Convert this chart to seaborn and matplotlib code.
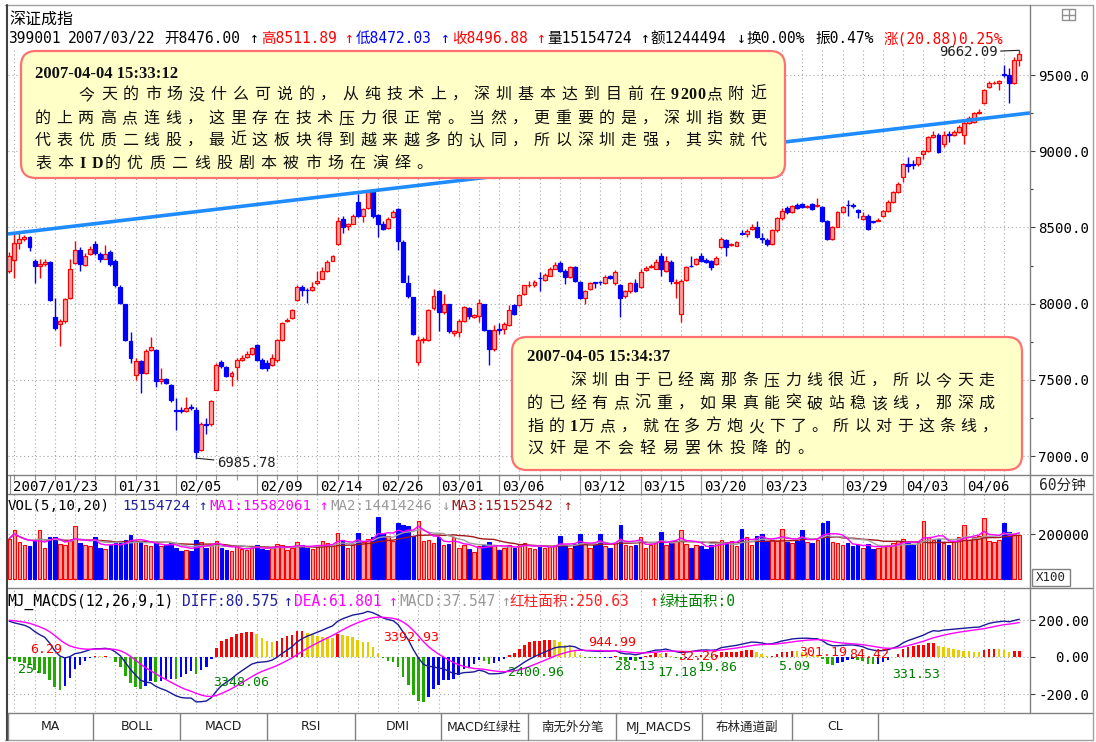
import numpy as np
import pandas as pd
import matplotlib
matplotlib.use("Agg")
import matplotlib.pyplot as plt
import matplotlib.transforms as mtransforms
import seaborn as sns
from matplotlib.patches import FancyBboxPatch, Rectangle
from matplotlib.lines import Line2D

# 深证成指 399001, 60 minute bars, 2007/01/23 .. 2007/04
opens = [8217, 8288, 8399, 8425, 8438, 8282, 8250, 8262, 8275, 7910,
         7865, 7885, 8034, 8269, 8353, 8256, 8327, 8392, 8327, 8295,
         8340, 8282, 8112, 7995, 7754, 7532, 7624, 7545, 7695, 7695,
         7490, 7505, 7467, 7300, 7300, 7298, 7320, 7304, 7037, 7210,
         7207, 7435, 7617, 7585, 7526, 7585, 7630, 7650, 7669, 7728,
         7630, 7610, 7598, 7630, 7760, 7885, 7904, 8021, 8112, 8090,
         8086, 8132, 8164, 8217, 8282, 8392, 8555, 8510, 8523, 8666,
         8575, 8627, 8744, 8581, 8523, 8497, 8568, 8620, 8405, 8138,
         8041, 7617, 7760, 7760, 7969, 8080, 7943, 7995, 7810, 7813,
         7884, 7969, 7910, 7917, 7995, 7826, 7702, 7832, 7832, 7858,
         7989, 7989, 8060, 8119, 8119, 8170, 8158, 8184, 8230, 8269,
         8217, 8177, 8243, 8145, 8034, 8093, 8140, 8145, 8138, 8180,
         8132, 8125, 8047, 8080, 8138, 8112, 8220, 8240, 8230, 8314,
         8217, 8275, 8135, 7930, 8158, 8250, 8262, 8314, 8285, 8278,
         8262, 8373, 8418, 8385, 8379, 8460, 8457, 8490, 8503, 8430,
         8420, 8392, 8480, 8560, 8625, 8600, 8650, 8653, 8633, 8653,
         8640, 8633, 8542, 8425, 8503, 8601, 8650, 8650, 8614, 8555,
         8575, 8540, 8545, 8575, 8607, 8666, 8731, 8829, 8914, 8914,
         8914, 8979, 9000, 9090, 9109, 9044, 9110, 9109, 9129, 9109,
         9187, 9194, 9250, 9318, 9422, 9445, 9448, 9505, 9500, 9448,
         9598]
highs = [8340, 8470, 8460, 8450, 8445, 8290, 8290, 8290, 8280, 8034,
         7900, 8040, 8290, 8412, 8370, 8330, 8375, 8412, 8340, 8386,
         8350, 8290, 8120, 8000, 7812, 7640, 7630, 7700, 7780, 7700,
         7578, 7510, 7470, 7382, 7320, 7389, 7340, 7320, 7220, 7252,
         7370, 7611, 7630, 7590, 7560, 7640, 7660, 7690, 7715, 7735,
         7640, 7630, 7670, 7770, 7880, 7905, 7965, 8120, 8120, 8100,
         8140, 8217, 8240, 8285, 8320, 8570, 8575, 8530, 8590, 8718,
         8630, 8740, 8750, 8590, 8540, 8565, 8615, 8630, 8420, 8190,
         8045, 7790, 7780, 7965, 8099, 8090, 8060, 8000, 7830, 7900,
         7985, 7980, 7935, 8030, 8000, 7830, 7860, 7870, 7880, 7990,
         8000, 8060, 8125, 8150, 8155, 8210, 8200, 8240, 8275, 8280,
         8225, 8250, 8250, 8150, 8090, 8145, 8145, 8150, 8190, 8190,
         8220, 8130, 8090, 8145, 8160, 8230, 8250, 8260, 8290, 8330,
         8310, 8285, 8160, 8160, 8250, 8310, 8300, 8330, 8300, 8285,
         8315, 8440, 8425, 8400, 8410, 8480, 8490, 8520, 8540, 8460,
         8430, 8490, 8570, 8630, 8640, 8650, 8660, 8660, 8650, 8660,
         8690, 8640, 8550, 8510, 8610, 8640, 8679, 8660, 8620, 8600,
         8590, 8545, 8560, 8615, 8680, 8740, 8800, 8920, 8959, 8940,
         8965, 9010, 9100, 9130, 9120, 9130, 9130, 9140, 9170, 9200,
         9230, 9260, 9275, 9410, 9460, 9460, 9470, 9565, 9545, 9620,
         9662.09]
lows = [8200, 8171, 8360, 8410, 8345, 8132, 8170, 8250, 8015, 7830,
        7722, 7870, 8030, 8260, 8217, 8250, 8320, 8320, 8275, 8290,
        8250, 8110, 7995, 7755, 7610, 7500, 7415, 7540, 7690, 7450,
        7470, 7470, 7355, 7168, 7280, 7290, 7300, 6985.78, 7030, 7142,
        7200, 7430, 7580, 7520, 7461, 7500, 7625, 7640, 7660, 7625,
        7570, 7560, 7590, 7620, 7755, 7880, 7900, 8015, 8047, 8001,
        8080, 8125, 8160, 8210, 8278, 8385, 8464, 8480, 8520, 8570,
        8536, 8620, 8560, 8438, 8480, 8490, 8560, 8353, 8140, 8040,
        7795, 7600, 7740, 7755, 7960, 7819, 7935, 7810, 7790, 7780,
        7880, 7900, 7905, 7880, 7820, 7598, 7690, 7800, 7800, 7850,
        7925, 7985, 8055, 8110, 8110, 8080, 8150, 8180, 8225, 8210,
        8130, 8170, 8145, 8030, 7995, 8090, 8100, 8120, 8130, 8160,
        8125, 7910, 8040, 8070, 8075, 8105, 8215, 8235, 8225, 8180,
        8210, 8130, 8040, 7880, 8150, 8240, 8255, 8270, 8265, 8220,
        8255, 8365, 8310, 8375, 8375, 8450, 8440, 8485, 8430, 8400,
        8380, 8385, 8470, 8550, 8590, 8595, 8620, 8625, 8625, 8615,
        8635, 8535, 8420, 8420, 8500, 8595, 8575, 8630, 8560, 8550,
        8485, 8530, 8540, 8570, 8600, 8660, 8725, 8796, 8862, 8880,
        8905, 8950, 8995, 9085, 8990, 9030, 9060, 9100, 9120, 9044,
        9180, 9185, 9245, 9310, 9415, 9440, 9402, 9490, 9318, 9440,
        9560]
closes = [8314, 8399, 8425, 8438, 8373, 8249, 8260, 8272, 8021, 7838,
          7885, 8028, 8230, 8353, 8262, 8314, 8360, 8334, 8295, 8327,
          8262, 8119, 8001, 7760, 7643, 7624, 7545, 7689, 7715, 7493,
          7505, 7480, 7370, 7295, 7296, 7317, 7315, 7024, 7207, 7205,
          7363, 7598, 7591, 7526, 7545, 7630, 7643, 7669, 7708, 7630,
          7578, 7580, 7643, 7760, 7871, 7895, 7956, 8112, 8086, 8086,
          8112, 8151, 8217, 8275, 8314, 8542, 8503, 8520, 8575, 8575,
          8620, 8731, 8575, 8523, 8490, 8555, 8601, 8412, 8145, 8047,
          7800, 7760, 7770, 7956, 8047, 7943, 7995, 7819, 7818, 7884,
          7976, 7917, 7922, 8001, 7826, 7702, 7826, 7828, 7865, 7956,
          7930, 8054, 8119, 8125, 8145, 8165, 8190, 8230, 8256, 8217,
          8177, 8243, 8151, 8034, 8080, 8138, 8135, 8140, 8177, 8165,
          8210, 8034, 8080, 8138, 8080, 8210, 8232, 8250, 8275, 8230,
          8282, 8151, 8145, 8151, 8243, 8245, 8290, 8282, 8270, 8243,
          8301, 8425, 8373, 8392, 8405, 8457, 8477, 8503, 8438, 8425,
          8392, 8480, 8560, 8610, 8600, 8640, 8630, 8633, 8640, 8620,
          8650, 8542, 8425, 8503, 8601, 8633, 8645, 8640, 8600, 8575,
          8490, 8535, 8550, 8607, 8666, 8731, 8783, 8914, 8905, 8910,
          8959, 9000, 9090, 9109, 8992, 9109, 9105, 9129, 9161, 9187,
          9220, 9252, 9260, 9402, 9448, 9450, 9461, 9500, 9448, 9598,
          9637]
# volume in thousands (axis is x100)
vol_k = [180, 220, 165, 150, 145, 170, 216, 140, 188, 188,
         155, 150, 170, 235, 160, 150, 145, 188, 140, 135,
         150, 160, 170, 175, 196, 165, 170, 150, 145, 165,
         145, 150, 160, 140, 125, 130, 125, 175, 165, 140,
         150, 170, 140, 130, 125, 150, 135, 130, 140, 150,
         135, 130, 140, 155, 150, 130, 140, 165, 150, 140,
         135, 150, 170, 160, 150, 203, 175, 140, 150, 203,
         165, 180, 185, 274, 200, 190, 170, 251, 240, 235,
         190, 258, 170, 175, 160, 188, 150, 155, 188, 140,
         150, 135, 120, 145, 150, 165, 150, 130, 140, 150,
         140, 155, 160, 140, 135, 150, 140, 145, 150, 193,
         150, 140, 155, 201, 160, 140, 150, 201, 145, 140,
         160, 240, 150, 145, 150, 185, 140, 150, 160, 209,
         150, 165, 170, 216, 155, 140, 150, 145, 135, 150,
         160, 175, 165, 170, 145, 224, 185, 150, 193, 201,
         170, 175, 170, 224, 165, 160, 170, 219, 165, 160,
         175, 248, 256, 165, 160, 150, 160, 145, 150, 140,
         155, 135, 140, 145, 150, 160, 170, 180, 160, 150,
         165, 256, 185, 175, 180, 160, 150, 170, 185, 240,
         175, 185, 190, 271, 170, 165, 175, 248, 209, 200,
         195]

date_labels = ["2007/01/23", "01/31", "02/05", "02/09", "02/14", "02/26", "03/01", "03/06",
               "03/12", "03/15", "03/20", "03/23", "03/29", "04/03", "04/06"]
date_pos = [0.2, 21, 33, 49, 61, 73, 85, 97, 113, 125, 137, 149, 165, 177, 189]

# pressure line through the two highs
trend_start, trend_end = 8457, 9251
ema12_seed, ema26_seed, dea_seed = 8330, 8120, 200

macd_area_labels = [("6.29", 4.1, 38, "#FF0000"), ("25.", 1.7, -70, "#008000"),
                    ("3348.06", 40.3, -140, "#008000"), ("3392.93", 74.0, 108, "#FF0000"),
                    ("944.99", 114.6, 81, "#FF0000"), ("2400.96", 98.8, -86, "#008000"),
                    ("28.13", 120.0, -54, "#008000"), ("17.18", 128.4, -84, "#008000"),
                    ("32.26", 132.4, 5, "#FF0000"), ("19.86", 136.2, -59, "#008000"),
                    ("5.09", 152.2, -54, "#008000"), ("301.19", 156.4, 27, "#FF0000"),
                    ("84.42", 166.4, 11, "#FF0000"), ("331.53", 174.8, -92, "#008000")]

note1_date = "2007-04-04 15:33:12"
note1 = ["\u3000\u3000今天的市场没什么可说的，从纯技术上，深圳基本达到目前在9200点附近",
         "的上两高点连线，这里存在技术压力很正常。当然，更重要的是，深圳指数更",
         "代表优质二线股，最近这板块得到越来越多的认同，所以深圳走强，其实就代",
         "表本ID的优质二线股剧本被市场在演绎。"]
note2_date = "2007-04-05 15:34:37"
note2 = ["\u3000\u3000深圳由于已经离那条压力线很近，所以今天走",
         "的已经有点沉重，如果真能突破站稳该线，那深成",
         "指的1万点，就在多方炮火下了。所以对于这条线，",
         "汉奸是不会轻易罢休投降的。"]

tabs = ["MA", "BOLL", "MACD", "RSI", "DMI", "MACD红绿柱", "南无外分笔", "MJ_MACDS", "布林通道副", "CL"]
tab_edges = [8, 93, 180, 267, 355, 441, 528, 616, 702, 792, 878]

sns.set_theme(style="white")
plt.rcParams["font.family"] = ["DejaVu Sans Mono", "Noto Sans CJK SC", "DejaVu Sans"]
plt.rcParams["axes.unicode_minus"] = False

df = pd.DataFrame({"open": opens, "high": highs, "low": lows, "close": closes})
df["vol"] = np.array(vol_k) * 1000.0
df["idx"] = np.arange(len(df))
df["up"] = df["close"] >= df["open"]
df["ma5"] = df["vol"].rolling(5, min_periods=1).mean()
df["ma10"] = df["vol"].rolling(10, min_periods=1).mean()
df["ma20"] = df["vol"].rolling(20, min_periods=1).mean()


def ema(values, n, seed):
    a = 2.0 / (n + 1)
    out, prev = [], seed
    for v in values:
        prev = prev + a * (v - prev)
        out.append(prev)
    return np.array(out)


df["diff"] = ema(df["close"], 12, ema12_seed) - ema(df["close"], 26, ema26_seed)
df["dea"] = ema(df["diff"], 9, dea_seed)
df["macd"] = 2 * (df["diff"] - df["dea"])
prev = df["macd"].shift(1).fillna(df["macd"].iloc[0])
df["mcol"] = np.where(df["macd"] >= 0,
                      np.where(df["macd"] >= prev, "#FF0000", "#E8CC00"),
                      np.where(df["macd"] <= prev, "#22AA00", "#0000FF"))

W, H = 1096, 742
X0, DX = 9.3, 5.05
fig = plt.figure(figsize=(W / 100, H / 100), dpi=100)
fig.patch.set_facecolor("white")


def fx(x):
    return x / W


def fy(y):
    return 1 - y / H


def panel(top, bottom):
    ax = fig.add_axes([fx(8), fy(bottom), (1030 - 8) / W, (bottom - top) / H])
    ax.set_facecolor("white")
    for s in ax.spines.values():
        s.set_visible(False)
    ax.set_xticks([])
    return ax


day_lines = np.arange(1, len(df), 4)
xlim = ((8 - X0) / DX, (1030 - X0) / DX)
red_face, red_edge, blue = "#FFA0A0", "#FF0000", "#0000FF"
grid_kw = dict(color="#A8A8A8", lw=0.8, linestyles=(0, (1, 2.5)), zorder=0)

# ---- price panel
ax_p = panel(48, 475)
ylo, yhi = 9500 - (475 - 75) / 0.1524, 9500 + (75 - 48) / 0.1524
ax_p.vlines(day_lines, ylo, yhi, **grid_kw)
ax_p.hlines(np.arange(7000, 9501, 500), xlim[0], xlim[1], **grid_kw)
up = df[df["up"]]
dn = df[~df["up"]]
ax_p.vlines(up["idx"], up["low"], up["high"], color=red_edge, lw=1, zorder=2)
ax_p.vlines(dn["idx"], dn["low"], dn["high"], color=blue, lw=1, zorder=2)
ax_p.bar(up["idx"], np.maximum(up["close"] - up["open"], 3), bottom=up["open"], width=0.78,
         color=red_face, edgecolor=red_edge, lw=0.9, zorder=3)
ax_p.bar(dn["idx"], np.maximum(dn["open"] - dn["close"], 3), bottom=dn["close"], width=0.78,
         color=blue, edgecolor=blue, lw=0.9, zorder=3)
ax_p.plot(list(xlim), [trend_start, trend_end], color="#1E8CFF", lw=2.6, zorder=4,
          solid_capstyle="butt")
top_i = int(df["high"].idxmax())
low_i = int(df["low"].idxmin())
ax_p.annotate(f"{df['high'].max():.2f}", xy=(top_i, df["high"].max()), xytext=(-22, -2),
              textcoords="offset pixels", ha="right", va="center", fontsize=10, color="#202020",
              arrowprops=dict(arrowstyle="-", color="#202020", lw=0.8, shrinkA=0, shrinkB=0),
              annotation_clip=False, zorder=5)
ax_p.annotate(f"{df['low'].min():.2f}", xy=(low_i, df["low"].min()), xytext=(21, -5),
              textcoords="offset pixels", ha="left", va="center", fontsize=10, color="#202020",
              arrowprops=dict(arrowstyle="-", color="#202020", lw=0.8, shrinkA=0, shrinkB=0),
              annotation_clip=False, zorder=5)
ax_p.set_xlim(xlim)
ax_p.set_ylim(ylo, yhi)
ax_p.set_yticks(np.arange(7000, 9501, 500))
ax_p.set_yticklabels([f"{v:.1f}" for v in np.arange(7000, 9501, 500)])
ax_p.set_yticks(np.arange(7250, 9700, 500), minor=True)

# ---- date strip
ax_d = panel(475, 494)
ax_d.set_xlim(xlim)
ax_d.set_ylim(0, 1)
ax_d.set_yticks([])
ax_d.vlines(day_lines, 0.72, 1, color="#909090", lw=0.8)
ax_d.vlines(date_pos, 0, 1, color="#909090", lw=0.8)
shift = mtransforms.offset_copy(ax_d.transData, fig=fig, x=3, y=0, units="dots")
for lab, pos in zip(date_labels, date_pos):
    ax_d.text(pos, 0.42, lab, transform=shift, ha="left", va="center", fontsize=10.2, color="black")

# ---- volume panel
ax_v = panel(494, 581)
vtop = 200000 * (579 - 494) / 45
vbot = -200000 * (581 - 579) / 45
ax_v.vlines(day_lines, vbot, vtop, **grid_kw)
ax_v.hlines([200000], xlim[0], xlim[1], **grid_kw)
ax_v.bar(up["idx"], df.loc[df["up"], "vol"], width=0.7, color=red_face, edgecolor=red_edge, lw=0.8, zorder=2)
ax_v.bar(dn["idx"], df.loc[~df["up"], "vol"], width=0.7, color=blue, edgecolor=blue, lw=0.8, zorder=2)
for col, c in [("ma20", "#A01818"), ("ma10", "#A0A0A0"), ("ma5", "#FF00FF")]:
    sns.lineplot(x=df["idx"].to_numpy(), y=df[col].to_numpy(), ax=ax_v, color=c, lw=1, legend=False, zorder=3)
ax_v.set_xlim(xlim)
ax_v.set_ylim(vbot, vtop)
ax_v.set_yticks([200000])
ax_v.set_yticklabels(["200000"])

# ---- MACD panel
ax_m = panel(589, 712)
mlo, mhi = -(712 - 657) / 0.185, (657 - 589) / 0.185
ax_m.vlines(day_lines, mlo, mhi, **grid_kw)
ax_m.hlines([-200, 0, 200], xlim[0], xlim[1], **grid_kw)
ax_m.bar(df["idx"], df["macd"], width=0.5, color=df["mcol"], lw=0, zorder=2)
sns.lineplot(x=df["idx"].to_numpy(), y=df["diff"].to_numpy(), ax=ax_m, color="#1A1A9A", lw=1, legend=False, zorder=3)
sns.lineplot(x=df["idx"].to_numpy(), y=df["dea"].to_numpy(), ax=ax_m, color="#FF00FF", lw=1, legend=False, zorder=3)
for txt, xi, yv, c in macd_area_labels:
    ax_m.text(xi, yv, txt, color=c, fontsize=9.5, ha="left", va="center", zorder=4, clip_on=True)
ax_m.set_xlim(xlim)
ax_m.set_ylim(mlo, mhi)
ax_m.set_yticks([200, 0, -200])
ax_m.set_yticklabels(["200.00", "0.00", "-200.0"])

for ax in (ax_p, ax_v, ax_m):
    ax.set_xlabel("")
    ax.set_ylabel("")
    ax.yaxis.tick_right()
    ax.tick_params(axis="y", which="major", right=True, left=False, labelright=True, labelleft=False,
                   length=3.6, width=0.8, pad=39, direction="out", color="#404040", labelsize=10.2,
                   labelcolor="black")
    ax.tick_params(axis="y", which="minor", right=True, left=False, length=2, width=0.8, color="#404040")
    for tl in ax.get_yticklabels():
        tl.set_horizontalalignment("right")
ax_v.tick_params(axis="y", which="minor", right=False)
ax_m.tick_params(axis="y", which="minor", right=False)


# ---- header texts
def put(x, base, s, color="black", size=10.5, **kw):
    fig.text(fx(x), fy(base), s, color=color, fontsize=size, ha="left", va="baseline", **kw)


put(9, 24, "深证成指", size=11.5, family=["Noto Sans CJK SC"])
hdr = [("399001", 7.7, "black"), ("2007/03/22", 68, "black"), ("开8476.00", 164, "black"),
       ("↑", 250, "black"), ("高8511.89", 261, "#FF0000"), ("↑", 345, "#FF0000"),
       ("低8472.03", 356, "#0000FF"), ("↑", 441, "#0000FF"), ("收8496.88", 452, "#FF0000"),
       ("↑", 537, "#FF0000"), ("量15154724", 547, "black"), ("↑", 641, "black"),
       ("额1244494", 650, "black"), ("↓", 737, "black"), ("换0.00%", 746, "black"),
       ("振0.47%", 815, "black"), ("涨(20.88)0.25%", 884, "#FF0000")]
for s, x, c in hdr:
    put(x, 43, s, c, size=10.5)

vol_hdr = [("VOL(5,10,20)", 7.7, "black"), ("15154724", 122, "#2020A0"), ("↑", 198, "#2020A0"),
           ("MA1:15582061", 209, "#FF00FF"), ("↑", 319, "#FF00FF"), ("MA2:14414246", 330, "#999999"),
           ("↓", 441, "#999999"), ("MA3:15152542", 451, "#A01818"), ("↑", 563, "#A01818")]
for s, x, c in vol_hdr:
    put(x, 510, s, c, size=10.2)

macd_hdr = [("MJ_MACDS(12,26,9,1)", 7.7, "black"), ("DIFF:80.575", 182, "#2020A0"), ("↑", 284, "#2020A0"),
            ("DEA:61.801", 294, "#FF00FF"), ("↑", 389, "#FF00FF"), ("MACD:37.547", 399, "#999999"),
            ("↑", 502, "#999999"), ("红柱面积:250.63", 509, "#FF2020"), ("↑", 650, "#FF2020"),
            ("绿柱面积:0", 659, "#008000")]
for s, x, c in macd_hdr:
    put(x, 606, s, c, size=10.5)

fig.text(fx(1086), fy(485), "60分钟", fontsize=10.5, ha="right", va="center")
fig.add_artist(Rectangle((fx(1032), fy(586)), 38 / W, 17 / H, fill=False, ec="#808080", lw=1))
fig.text(fx(1051), fy(577.5), "X100", fontsize=9, ha="center", va="center")


# ---- comment boxes
def note_box(x0, y0, x1, y1):
    p = FancyBboxPatch((x0 / 100, (H - y1) / 100), (x1 - x0) / 100, (y1 - y0) / 100,
                       boxstyle="round,pad=0,rounding_size=0.15", transform=fig.dpi_scale_trans,
                       fc="#FFFFC8", ec="#FF7070", lw=1.6, zorder=4)
    fig.add_artist(p)


def char_units(ch):
    if ord(ch) >= 128:
        return 1.0
    if ch.isupper():
        return 0.56
    return 0.4


def write_line(x0, base, text, x1=None, adv=22.3):
    units = [char_units(ch) for ch in text]
    if x1 is not None:
        adv = (x1 - x0) / sum(units)
    x = x0
    for ch, u in zip(text, units):
        if ch not in (" ", "\u3000"):
            fam = ["Liberation Serif"] if ord(ch) < 128 else ["Noto Sans CJK SC"]
            wt = "bold" if ord(ch) < 128 else "normal"
            fig.text(fx(x), fy(base), ch, family=fam, fontsize=11.5, fontweight=wt, ha="left",
                     va="baseline", color="#101010", zorder=5)
        x += adv * u


note_box(21, 51, 785, 178)
fig.text(fx(35), fy(78), note1_date, family=["Liberation Serif"], fontsize=12, fontweight="bold",
         ha="left", va="baseline", color="#101010", zorder=5)
write_line(35, 99, note1[0], 772)
write_line(35, 123, note1[1], 772)
write_line(35, 145, note1[2], 772)
write_line(35, 168, note1[3], adv=22.3)

note_box(512, 337, 1022, 470)
fig.text(fx(527), fy(361), note2_date, family=["Liberation Serif"], fontsize=12, fontweight="bold",
         ha="left", va="baseline", color="#101010", zorder=5)
write_line(527, 385, note2[0], 1000)
write_line(527, 408, note2[1], 1000)
write_line(527, 431, note2[2], 1003)
write_line(527, 453, note2[3], adv=22.5)


# ---- frame
def hline(y, x0=8, x1=1093, c="#808080", lw=1):
    fig.add_artist(Line2D([fx(x0), fx(x1)], [fy(y), fy(y)], color=c, lw=lw))


def vline(x, y0, y1, c="#808080", lw=1):
    fig.add_artist(Line2D([fx(x), fx(x)], [fy(y0), fy(y1)], color=c, lw=lw))


hline(5, 5, 1093, "#A0A0A0")
hline(475)
hline(494)
hline(588)
hline(713)
hline(740, 5, 1093, "#A0A0A0")
vline(7, 5, 740, "#404040", 1.5)
vline(1030, 5, 713)
vline(1093, 5, 740, "#A0A0A0")
for e in tab_edges:
    vline(e, 713, 740)
for name, a, b in zip(tabs, tab_edges[:-1], tab_edges[1:]):
    fig.text(fx((a + b) / 2), fy(727), name, fontsize=9, ha="center", va="center",
             family=["DejaVu Sans", "Noto Sans CJK SC"], color="#202020")
fig.add_artist(Rectangle((fx(1062), fy(20)), 13 / W, 11 / H, fill=False, ec="#909090", lw=1))
vline(1069, 9, 20, "#909090")
hline(14.5, 1062, 1075, "#909090")

fig.savefig("out.png", dpi=100, facecolor="white")
